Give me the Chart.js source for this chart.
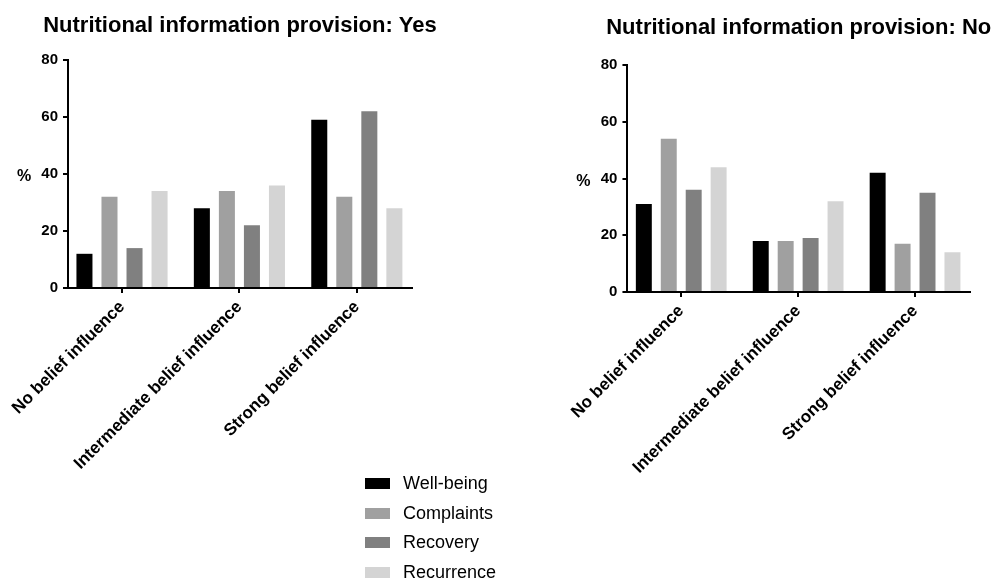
<!DOCTYPE html>
<html>
<head>
<meta charset="utf-8">
<script src="https://cdn.jsdelivr.net/npm/chart.js@4/dist/chart.umd.min.js"></script>
<style>
  html, body { margin: 0; padding: 0; background: #fff; }
  body { width: 991px; height: 581px; position: relative; overflow: hidden; font-family: "Liberation Sans", Arial, sans-serif; }
  #wrapYes { position: absolute; left: 0; top: 0; width: 470px; height: 480px; }
  #wrapNo { position: absolute; left: 560px; top: 0; width: 431px; height: 490px; }
  #legenda { position: absolute; left: 365px; top: 469px; }
  .legenda-item { height: 29.5px; display: flex; align-items: center; font-size: 18px; color: #000; }
  .legenda-cor { display: inline-block; width: 25px; height: 11px; margin-right: 13px; }
</style>
</head>
<body>
<div id="wrapYes"><canvas id="graficoSim"></canvas></div>
<div id="wrapNo"><canvas id="graficoNao"></canvas></div>
<div id="legenda"></div>
<script>
// categorias e séries
const categorias = ['No belief influence', 'Intermediate belief influence', 'Strong belief influence'];
const series = ['Well-being', 'Complaints', 'Recovery', 'Recurrence'];
const coresSeries = ['#000000', '#a0a0a0', '#808080', '#d4d4d4'];
const yTicks = [0, 20, 40, 60, 80];

// Nutritional information provision: Yes
const simWellbeing = [12, 28, 59];
const simComplaints = [32, 34, 32];
const simRecovery = [14, 22, 62];
const simRecurrence = [34, 36, 28];

// Nutritional information provision: No
const naoWellbeing = [31, 18, 42];
const naoComplaints = [54, 18, 17];
const naoRecovery = [36, 19, 35];
const naoRecurrence = [44, 32, 14];

const fonte = '"Liberation Sans", Arial, sans-serif';

// desenha o título centrado na área do gráfico e o "%" do eixo y
const tituloPlugin = {
    id: 'tituloPainel',
    afterDraw(chart, args, opts) {
        const { ctx, chartArea } = chart;
        ctx.save();
        ctx.fillStyle = '#000';
        ctx.font = 'bold 22px ' + fonte;
        ctx.textAlign = 'center';
        ctx.textBaseline = 'alphabetic';
        ctx.fillText(opts.text, (chartArea.left + chartArea.right) / 2, chartArea.top - opts.offset);
        ctx.font = 'bold 16px ' + fonte;
        ctx.textBaseline = 'middle';
        ctx.fillText('%', chartArea.left - 44, (chartArea.top + chartArea.bottom) / 2 + 3);
        ctx.restore();
    }
};

function criarGrafico(id, titulo, valores, layout) {
    const ctx = document.getElementById(id).getContext('2d');
    return new Chart(ctx, {
        type: 'bar',
        data: {
            labels: categorias,
            datasets: series.map((nome, i) => ({
                label: nome,
                data: valores[i],
                backgroundColor: coresSeries[i],
                borderWidth: 0,
                categoryPercentage: 0.853,
                barPercentage: 0.64
            }))
        },
        options: {
            responsive: true,
            maintainAspectRatio: false,
            animation: false,
            layout: { padding: { top: layout.top, right: layout.right, left: 0, bottom: 0 } },
            scales: {
                x: {
                    offset: true,
                    afterBuildTicks: (scale) => {
                        // o GraphPad deixa um pouco menos de espaço à esquerda
                        scale._startValue = -0.46;
                        scale._valueRange = 2.93;
                    },
                    afterFit: (scale) => { scale.height = layout.h - layout.bottom; },
                    border: { display: true, color: '#000', width: 2 },
                    grid: { display: true, offset: false, drawOnChartArea: false, drawTicks: true, tickLength: 5, color: '#000', lineWidth: 2 },
                    ticks: {
                        color: '#000',
                        font: { family: fonte, size: 17, weight: 'bold' },
                        minRotation: 45,
                        maxRotation: 45,
                        padding: 4,
                        autoSkip: false
                    }
                },
                y: {
                    min: 0,
                    max: 80,
                    afterBuildTicks: (scale) => { scale.ticks = yTicks.map(v => ({ value: v })); },
                    afterFit: (scale) => { scale.width = layout.yw; },
                    border: { display: true, color: '#000', width: 2 },
                    grid: { display: true, drawOnChartArea: false, drawTicks: true, tickLength: 5, color: '#000', lineWidth: 2 },
                    ticks: {
                        color: '#000',
                        font: { family: fonte, size: 15, weight: 'bold' },
                        padding: 5
                    }
                }
            },
            plugins: {
                legend: { display: false },
                tooltip: { enabled: false },
                tituloPainel: { text: titulo, offset: layout.tituloOffset }
            }
        },
        plugins: [tituloPlugin]
    });
}

function criarLegenda() {
    const legendaContainer = document.getElementById('legenda');
    legendaContainer.innerHTML = '';
    series.forEach((nome, i) => {
        const itemDiv = document.createElement('div');
        itemDiv.className = 'legenda-item';
        itemDiv.innerHTML = `
            <span class="legenda-cor" style="background-color: ${coresSeries[i]};"></span>
            <span>${nome}</span>
        `;
        legendaContainer.appendChild(itemDiv);
    });
}

criarGrafico('graficoSim', 'Nutritional information provision: Yes',
    [simWellbeing, simComplaints, simRecovery, simRecurrence],
    { top: 60, right: 58, yw: 68, h: 480, bottom: 288, tituloOffset: 28 });

criarGrafico('graficoNao', 'Nutritional information provision: No',
    [naoWellbeing, naoComplaints, naoRecovery, naoRecurrence],
    { top: 65, right: 21, yw: 66, h: 490, bottom: 292, tituloOffset: 31 });

criarLegenda();
</script>
</body>
</html>
